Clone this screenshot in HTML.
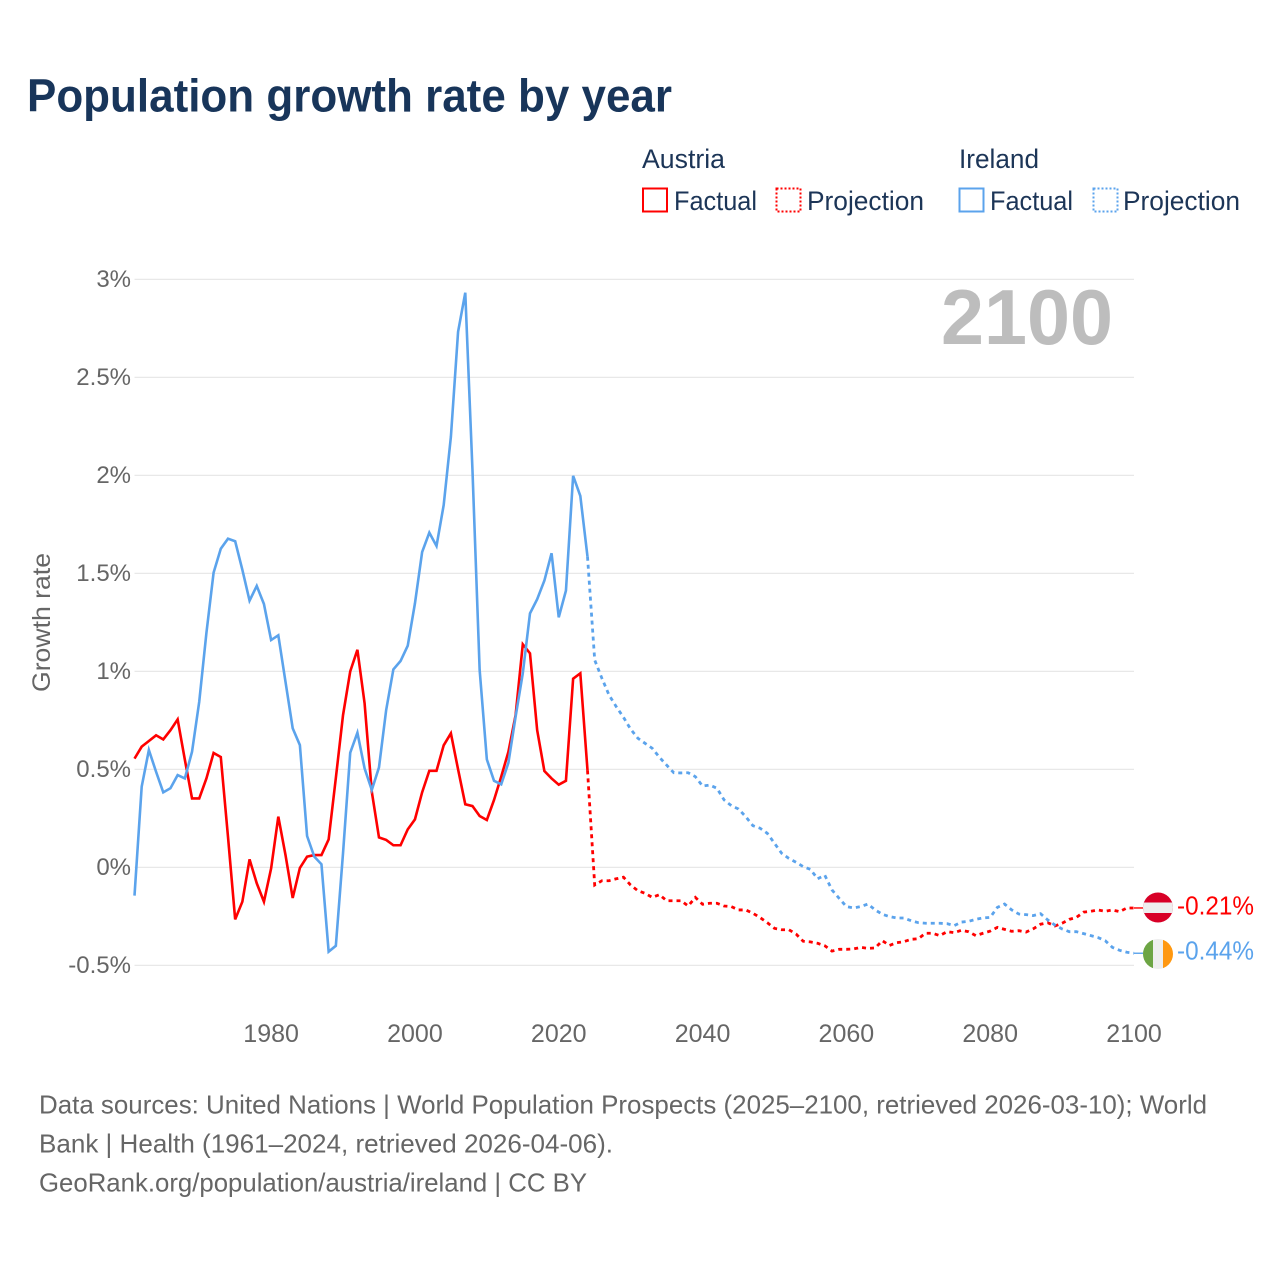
<!DOCTYPE html>
<html lang="en">
<head>
<meta charset="utf-8">
<title>Population growth rate by year</title>
<style>
html,body{margin:0;padding:0;background:#fff;}
svg{display:block;font-family:"Liberation Sans",sans-serif;}
</style>
</head>
<body>
<svg id="chart" xmlns="http://www.w3.org/2000/svg" width="1280" height="1280" viewBox="0 0 1280 1280">
  <rect width="1280" height="1280" fill="#fff"/>
  <text x="27" y="111.5" font-size="46" font-weight="700" fill="#18355a" textLength="645" lengthAdjust="spacingAndGlyphs">Population growth rate by year</text>

  <g font-size="27" fill="#1c3557">
    <text x="642" y="168" textLength="83" lengthAdjust="spacingAndGlyphs">Austria</text>
    <text x="959" y="168" textLength="80" lengthAdjust="spacingAndGlyphs">Ireland</text>
    <rect x="643" y="188.5" width="24" height="23" fill="none" stroke="#ff0000" stroke-width="2"/>
    <text x="674" y="210" textLength="83" lengthAdjust="spacingAndGlyphs">Factual</text>
    <rect x="776.5" y="188.5" width="24" height="23" fill="none" stroke="#ff0000" stroke-width="2" stroke-dasharray="2 2"/>
    <text x="807" y="210" textLength="117" lengthAdjust="spacingAndGlyphs">Projection</text>
    <rect x="959.5" y="188.5" width="24" height="23" fill="none" stroke="#5ba3ec" stroke-width="2"/>
    <text x="990" y="210" textLength="83" lengthAdjust="spacingAndGlyphs">Factual</text>
    <rect x="1093.5" y="188.5" width="24" height="23" fill="none" stroke="#5ba3ec" stroke-width="2" stroke-dasharray="2 2"/>
    <text x="1123" y="210" textLength="117" lengthAdjust="spacingAndGlyphs">Projection</text>
  </g>

  <g id="grid"></g>
  <g id="yticks"></g>
  <g id="xticks"></g>
  <text transform="translate(50,692) rotate(-90)" font-size="25" fill="#666" textLength="139" lengthAdjust="spacingAndGlyphs">Growth rate</text>
  <text x="941" y="344" font-size="78" font-weight="700" fill="#bdbdbd" textLength="172" lengthAdjust="spacingAndGlyphs">2100</text>
  <g id="series"></g>

  <defs>
    <clipPath id="clip-at"><circle cx="1158" cy="907.5" r="15"/></clipPath>
    <clipPath id="clip-ie"><circle cx="1158" cy="954" r="15"/></clipPath>
  </defs>
  <g clip-path="url(#clip-at)">
    <rect x="1143" y="892" width="30" height="31" fill="#d80027"/>
    <rect x="1143" y="902.5" width="30" height="10.5" fill="#eeeeee"/>
  </g>
  <g clip-path="url(#clip-ie)">
    <rect x="1143" y="939" width="10" height="30" fill="#6da544"/>
    <rect x="1153" y="939" width="10" height="30" fill="#eeeeee"/>
    <rect x="1163" y="939" width="10" height="30" fill="#ff9811"/>
  </g>
  <g id="endlabels"></g>

  <g font-size="26" fill="#666">
    <text x="39" y="1113.5" textLength="1168" lengthAdjust="spacingAndGlyphs">Data sources: United Nations | World Population Prospects (2025–2100, retrieved 2026-03-10); World</text>
    <text x="39" y="1152.5" textLength="574" lengthAdjust="spacingAndGlyphs">Bank | Health (1961–2024, retrieved 2026-04-06).</text>
    <text x="39" y="1191.5" textLength="548" lengthAdjust="spacingAndGlyphs">GeoRank.org/population/austria/ireland | CC BY</text>
  </g>
</svg>

<script>
const firstYear = 1961;
const xTickYears = [1980, 2000, 2020, 2040, 2060, 2080, 2100];
const yTickValues = [-0.5, 0, 0.5, 1, 1.5, 2, 2.5, 3];
const yTickLabels = ["-0.5%", "0%", "0.5%", "1%", "1.5%", "2%", "2.5%", "3%"];
const endLabels = ["-0.21%", "-0.44%"];

const austriaFactual = [
  0.555,0.616,0.645,0.674,0.653,0.70,0.755,0.55,0.352,0.352,
  0.454,0.584,0.563,0.157,-0.265,-0.175,0.041,-0.081,-0.175,-0.005,
  0.259,0.063,-0.156,-0.003,0.055,0.063,0.063,0.143,0.456,0.777,
  1.0,1.11,0.837,0.386,0.153,0.14,0.113,0.113,0.194,0.245,
  0.383,0.493,0.493,0.623,0.684,0.50,0.322,0.313,0.262,0.242,
  0.344,0.463,0.59,0.777,1.138,1.092,0.70,0.492,0.454,0.422,
  0.442,0.963,0.99,0.495
];
const austriaProjection = [
  -0.09,-0.068,-0.068,-0.058,-0.05,-0.09,-0.119,-0.132,-0.153,-0.139,
  -0.17,-0.17,-0.17,-0.197,-0.153,-0.188,-0.183,-0.183,-0.197,-0.2,
  -0.217,-0.217,-0.234,-0.256,-0.282,-0.311,-0.318,-0.318,-0.34,-0.377,
  -0.38,-0.387,-0.40,-0.427,-0.418,-0.418,-0.416,-0.408,-0.413,-0.411,
  -0.374,-0.398,-0.384,-0.379,-0.367,-0.364,-0.336,-0.336,-0.348,-0.328,
  -0.333,-0.321,-0.328,-0.348,-0.336,-0.325,-0.306,-0.316,-0.326,-0.323,
  -0.33,-0.313,-0.29,-0.282,-0.299,-0.285,-0.265,-0.255,-0.228,-0.224,
  -0.217,-0.224,-0.217,-0.226,-0.207,-0.207
];
const irelandFactual = [
  -0.144,0.412,0.599,0.488,0.383,0.404,0.471,0.454,0.59,0.845,
  1.196,1.504,1.626,1.677,1.664,1.518,1.361,1.436,1.344,1.16,
  1.184,0.947,0.71,0.624,0.16,0.055,0.016,-0.43,-0.40,0.073,
  0.585,0.687,0.505,0.395,0.51,0.803,1.01,1.053,1.131,1.347,
  1.609,1.708,1.64,1.849,2.197,2.733,2.932,2.028,1.007,0.551,
  0.442,0.424,0.534,0.769,0.99,1.296,1.368,1.463,1.603,1.276,
  1.412,1.998,1.895,1.585
];
const irelandProjection = [
  1.058,0.965,0.879,0.82,0.766,0.705,0.659,0.633,0.608,0.562,
  0.522,0.483,0.482,0.483,0.463,0.415,0.42,0.404,0.344,0.315,
  0.298,0.259,0.213,0.2,0.174,0.123,0.072,0.046,0.026,0.004,
  -0.01,-0.058,-0.04,-0.115,-0.158,-0.2,-0.207,-0.2,-0.187,-0.217,
  -0.239,-0.251,-0.258,-0.258,-0.272,-0.282,-0.285,-0.285,-0.285,-0.287,
  -0.297,-0.279,-0.275,-0.265,-0.258,-0.255,-0.204,-0.187,-0.217,-0.238,
  -0.241,-0.246,-0.236,-0.268,-0.294,-0.314,-0.328,-0.328,-0.338,-0.348,
  -0.358,-0.374,-0.408,-0.423,-0.433,-0.438
];

const NS = "http://www.w3.org/2000/svg";
const RED = "#ff0000";
const BLUE = "#5ba3ec";
const plotLeft = 134.5;
const plotRight = 1134;
const lastYear = 2100;
const yZero = 867.4;
const pxPerPercent = 196;

function xScale(year) {
  return plotLeft + (year - firstYear) * (plotRight - plotLeft) / (lastYear - firstYear);
}
function yScale(value) {
  return yZero - value * pxPerPercent;
}
function make(tag, parentId, attrs, text) {
  const el = document.createElementNS(NS, tag);
  Object.keys(attrs).forEach(function (k) { el.setAttribute(k, attrs[k]); });
  if (text !== undefined) el.textContent = text;
  document.getElementById(parentId).appendChild(el);
  return el;
}
function linePath(values, startYear) {
  return values.map(function (v, i) {
    return (i ? "L" : "M") + xScale(startYear + i).toFixed(2) + " " + yScale(v).toFixed(2);
  }).join("");
}

yTickValues.forEach(function (v, i) {
  const line = make("line", "grid", {
    x1: plotLeft, x2: plotRight, y1: yScale(v), y2: yScale(v),
    stroke: "#e8e8e8", "stroke-width": 1.3
  });
  
  
  const label = make("text", "yticks", {
    x: 131, y: yScale(v) + 7.5, "text-anchor": "end", "font-size": 24, fill: "#666"
  }, yTickLabels[i]);
  
  
});

xTickYears.forEach(function (year) {
  const label = make("text", "xticks", {
    x: xScale(year), y: 1042, "text-anchor": "middle", "font-size": 25, fill: "#666"
  }, String(year));
  
  
});

function drawCountry(name, color, factual, projection, labelText, labelBaselineOffset) {
  const f = make("path", "series", {
    d: linePath(factual, firstYear), fill: "none", stroke: color,
    "stroke-width": 2.6, "stroke-linejoin": "miter"
  });
  
  

  const projStart = firstYear + factual.length - 1;
  const projValues = [factual[factual.length - 1]].concat(projection);
  const p = make("path", "series", {
    d: linePath(projValues, projStart), fill: "none", stroke: color,
    "stroke-width": 2.8, "stroke-dasharray": "4 4"
  });
  
  

  const endValue = projection[projection.length - 1];
  const c = make("line", "series", {
    x1: xScale(lastYear), x2: xScale(lastYear) + 9, y1: yScale(endValue), y2: yScale(endValue),
    stroke: color, "stroke-width": 1.4
  });
  
  

  const t = make("text", "endlabels", {
    x: 1177, y: yScale(endValue) + labelBaselineOffset, "font-size": 26, fill: color,
    textLength: 77, lengthAdjust: "spacingAndGlyphs"
  }, labelText);
  
  
}

drawCountry("austria", RED, austriaFactual, austriaProjection, endLabels[0], 6.5);
drawCountry("ireland", BLUE, irelandFactual, irelandProjection, endLabels[1], 6.5);
</script>
</body>
</html>
